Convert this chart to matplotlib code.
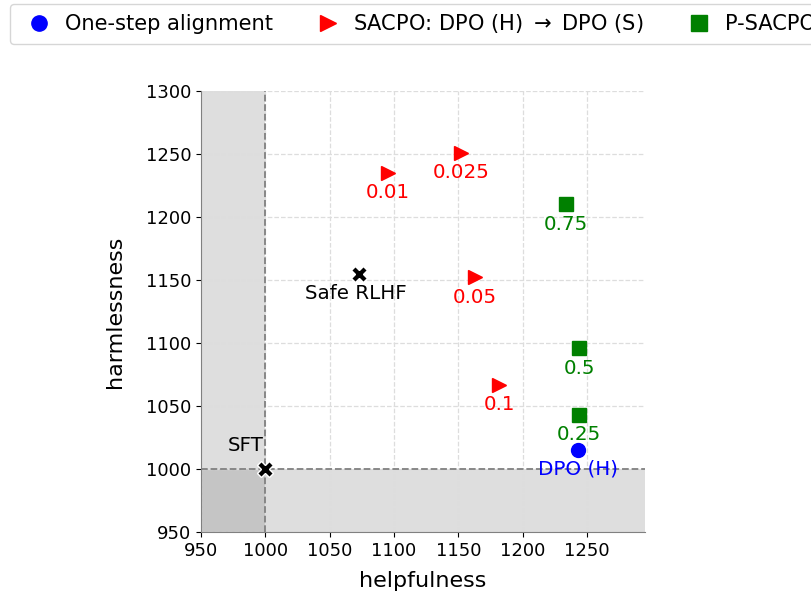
import matplotlib
matplotlib.use("Agg")
import matplotlib.pyplot as plt

# data
sft = (1000, 1000)
safe_rlhf = (1073, 1155)
dpo_h = (1243, 1015)
sacpo_labels = ["0.01", "0.025", "0.05", "0.1"]
sacpo_x = [1095, 1152, 1163, 1182]
sacpo_y = [1235, 1251, 1152, 1067]
psacpo_labels = ["0.75", "0.5", "0.25"]
psacpo_x = [1234, 1244, 1244]
psacpo_y = [1210, 1096, 1043]

fig = plt.figure(figsize=(8.11, 5.99), dpi=100)
ax = fig.add_axes([0.248, 0.112, 0.547, 0.736])

xmin, xmax, ymin, ymax = 950, 1295, 950, 1300
ax.axvspan(xmin, 1000, color="gray", alpha=0.26, lw=0, zorder=0)
ax.axhspan(ymin, 1000, color="gray", alpha=0.26, lw=0, zorder=0)
ax.axvline(1000, color="gray", ls="--", lw=1.3, zorder=1)
ax.axhline(1000, color="gray", ls="--", lw=1.3, zorder=1)
ax.grid(True, ls="--", color="#dddddd", lw=0.9, zorder=0)
ax.set_axisbelow(True)

fs = 14.3
h1, = ax.plot([dpo_h[0]], [dpo_h[1]], "o", color="blue", ms=10, ls="none", label="One-step alignment", zorder=3)
ax.annotate("DPO (H)", dpo_h, xytext=(0, -19), textcoords="offset pixels", ha="center", va="center", color="blue", fontsize=fs)

h2, = ax.plot(sacpo_x, sacpo_y, ">", color="red", ms=10, ls="none", label="SACPO: DPO (H) $\\rightarrow$ DPO (S)", zorder=3)
for x, y, l in zip(sacpo_x, sacpo_y, sacpo_labels):
    ax.annotate(l, (x, y), xytext=(0, -20), textcoords="offset pixels", ha="center", va="center", color="red", fontsize=fs)

h3, = ax.plot(psacpo_x, psacpo_y, "s", color="green", ms=10, ls="none", label="P-SACPO", zorder=3)
for x, y, l in zip(psacpo_x, psacpo_y, psacpo_labels):
    ax.annotate(l, (x, y), xytext=(0, -20), textcoords="offset pixels", ha="center", va="center", color="green", fontsize=fs)

ax.plot([sft[0], safe_rlhf[0]], [sft[1], safe_rlhf[1]], "X", color="black", mec="white", mew=1, ms=12, ls="none", zorder=4)
ax.annotate("SFT", sft, xytext=(-20, 23), textcoords="offset pixels", ha="center", va="center", fontsize=fs)
ax.annotate("Safe RLHF", safe_rlhf, xytext=(-3, -20), textcoords="offset pixels", ha="center", va="center", fontsize=fs)

ax.set_xlim(xmin, xmax)
ax.set_ylim(ymin, ymax)
ax.set_xticks(range(950, 1251, 50))
ax.set_yticks(range(950, 1301, 50))
ax.tick_params(labelsize=13)
ax.set_xlabel("helpfulness", fontsize=16, labelpad=8)
ax.set_ylabel("harmlessness", fontsize=16, labelpad=15)
for s in ["top", "right"]:
    ax.spines[s].set_visible(False)
for s in ["left", "bottom"]:
    ax.spines[s].set_color("gray")

fig.legend(handles=[h1, h2, h3], loc="upper left", bbox_to_anchor=(10 / 811, 1 - 4 / 599),
           borderaxespad=0, ncol=3, fontsize=15.1, frameon=True, columnspacing=1.65,
           handletextpad=0.2, markerscale=1.1)

fig.savefig("out.png", dpi=100)
